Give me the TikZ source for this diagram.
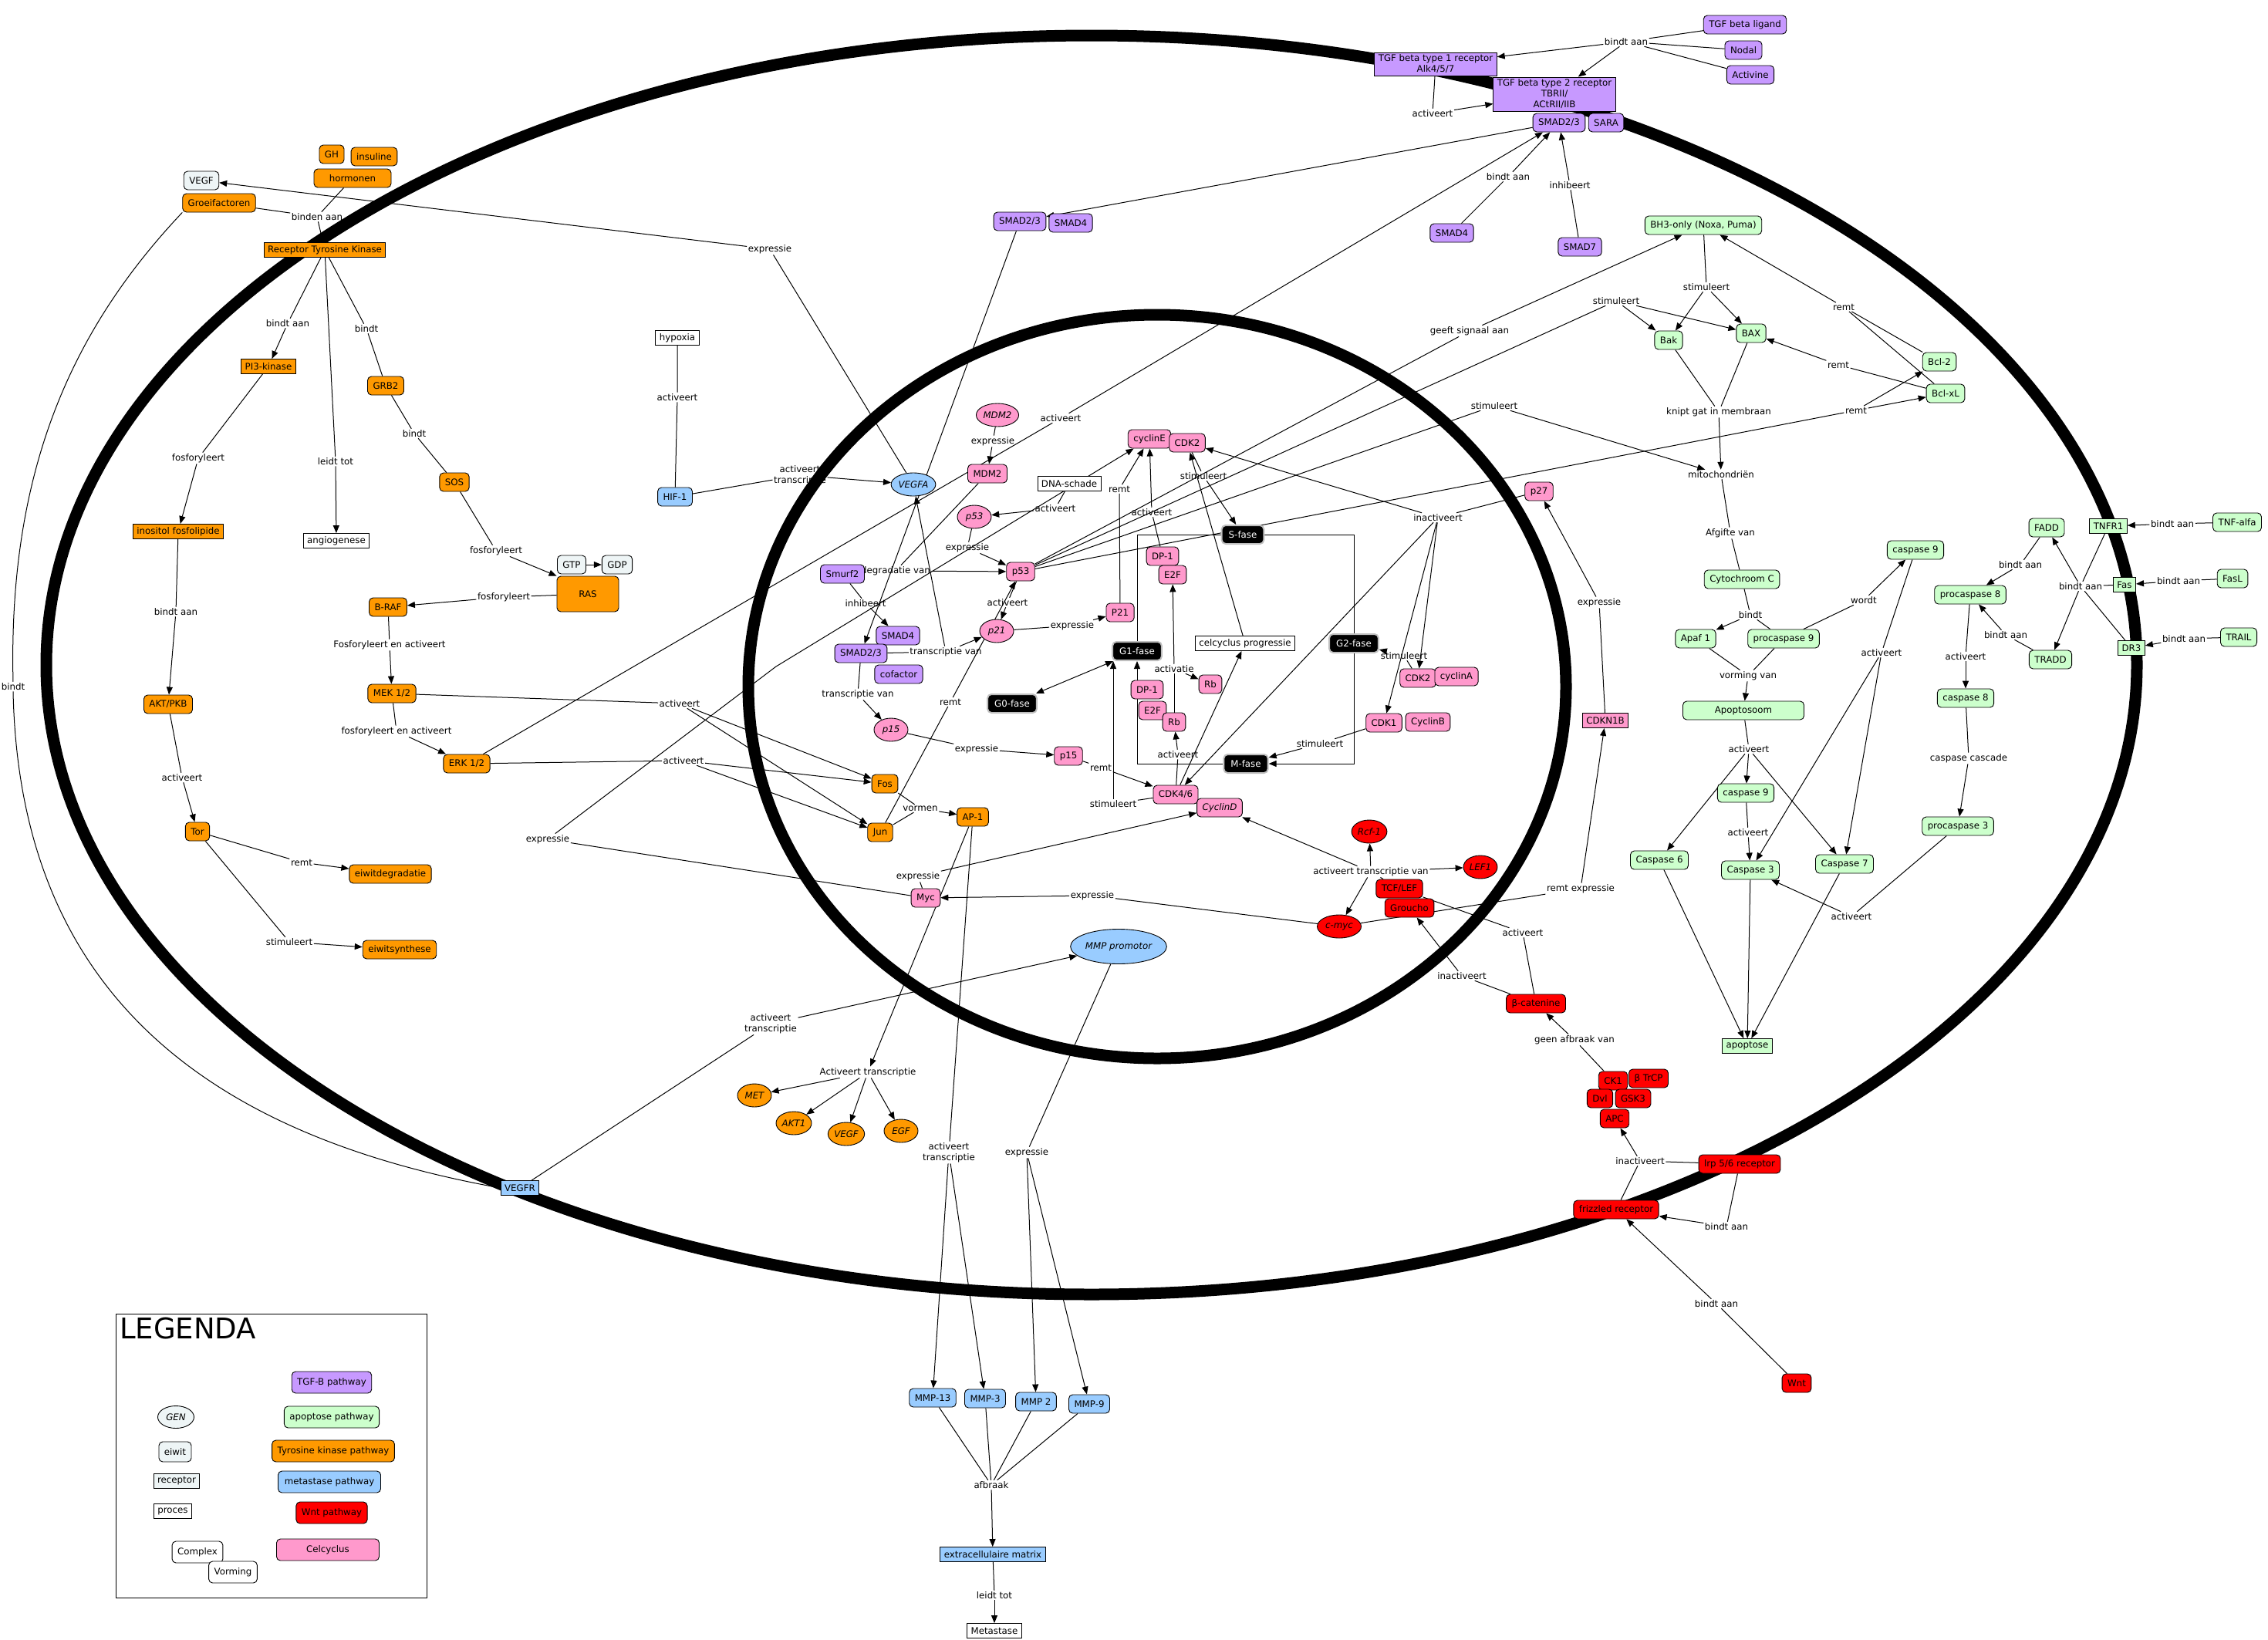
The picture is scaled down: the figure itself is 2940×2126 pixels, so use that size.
\documentclass[tikz,border=0pt]{standalone}
\usepackage{fontspec}
\setmainfont{DejaVu Sans}
\usepackage{tikz}
\usetikzlibrary{arrows.meta, shapes.geometric, backgrounds}
\usepackage{xcolor}
\definecolor{tkorange}{RGB}{255,153,0}
\definecolor{tgfpurple}{RGB}{199,153,255}
\definecolor{apogreen}{RGB}{204,255,204}
\definecolor{metblue}{RGB}{153,204,255}
\definecolor{wntred}{RGB}{255,0,0}
\definecolor{cycpink}{RGB}{255,153,204}
\definecolor{eiwitgrey}{RGB}{238,245,246}
\newcommand{\mapfont}{\fontsize{11.8}{14}\selectfont}

\begin{document}
\begin{tikzpicture}[x=1pt, y=-1pt, font=\mapfont,
  cn/.style={line width=1pt},
  arr/.style={line width=1pt, -{Triangle[length=10pt,width=8pt]}},
  box/.style={draw, rounded corners=5pt, line width=0.9pt, inner xsep=7pt, inner ysep=2pt, minimum height=24pt},
  rbox/.style={draw, line width=0.9pt, inner xsep=5pt, inner ysep=3pt, minimum height=19pt, align=center},
  gen/.style={draw, ellipse, line width=0.9pt, inner xsep=1pt, inner ysep=3pt, minimum width=44pt, minimum height=30pt, font=\mapfont\itshape},
  lbl/.style={inner sep=1.5pt, align=center},
  tkbox/.style={box, fill=tkorange}, tkrec/.style={rbox, fill=tkorange}, tkgen/.style={gen, fill=tkorange},
  tgfbox/.style={box, fill=tgfpurple}, tgfrec/.style={rbox, fill=tgfpurple},
  apobox/.style={box, fill=apogreen}, aporec/.style={rbox, fill=apogreen},
  metbox/.style={box, fill=metblue}, metrec/.style={rbox, fill=metblue}, metgen/.style={gen, fill=metblue},
  wntbox/.style={box, fill=wntred}, wntgen/.style={gen, fill=wntred},
  cycbox/.style={box, fill=cycpink}, cycrec/.style={rbox, fill=cycpink}, cycgen/.style={gen, fill=cycpink},
  eiw/.style={box, fill=eiwitgrey},
  proc/.style={rbox, fill=white},
  fase/.style={box, fill=black, text=white, draw=gray!50, line width=2pt, inner xsep=9pt}]

\useasboundingbox (0,0) rectangle (2940,2126);

% membranen
\draw[line width=15pt] (1415,862) ellipse [x radius=1355, y radius=816];
\draw[line width=15pt] (1500,890) ellipse [x radius=530, y radius=482];

% Tyrosine kinase pathway
\node[tkbox] (gh) at (430,200) {GH};
\node[tkbox] (insul) at (485,203) {insuline};
\node[tkbox, minimum width=100pt] (horm) at (457,231) {hormonen};
\node[eiw] (vegfL) at (261,234) {VEGF};
\node[tkbox] (groei) at (284,263) {Groeifactoren};
\node[tkrec] (rtk) at (421,324) {Receptor Tyrosine Kinase};
\node[tkrec] (pi3k) at (348,475) {PI3-kinase};
\node[tkbox] (grb2) at (500,500) {GRB2};
\node[tkbox] (sos) at (589,625) {SOS};
\node[tkrec] (inos) at (231,689) {inositol fosfolipide};
\node[proc] (angio) at (436,701) {angiogenese};
\node[tkbox, minimum width=80pt, minimum height=46pt] (ras) at (762,770) {RAS};
\node[eiw] (gtp) at (741,732) {GTP};
\node[eiw] (gdp) at (800,732) {GDP};
\node[tkbox] (braf) at (503,787) {B-RAF};
\node[tkbox] (mek) at (508,899) {MEK 1/2};
\node[tkbox] (erk) at (605,990) {ERK 1/2};
\node[tkbox] (akt) at (218,913) {AKT/PKB};
\node[tkbox] (tor) at (256,1078) {Tor};
\node[tkbox] (degr) at (506,1133) {eiwitdegradatie};
\node[tkbox] (synth) at (518,1231) {eiwitsynthese};
\node[tkbox] (fos) at (1147,1016) {Fos};
\node[tkbox] (jun) at (1141,1079) {Jun};
\node[tkbox] (ap1) at (1261,1059) {AP-1};
\node[tkgen] (metG) at (978,1420) {MET};
\node[tkgen] (akt1) at (1029,1456) {AKT1};
\node[tkgen] (vegfG) at (1097,1470) {VEGF};
\node[tkgen] (egf) at (1168,1466) {EGF};

% metastase pathway
\node[proc] (hypoxia) at (878,438) {hypoxia};
\node[metbox] (hif) at (875,644) {HIF-1};
\node[metgen] (vegfa) at (1184,628) {VEGFA};
\node[metrec] (vegfr) at (674,1540) {VEGFR};
\node[metgen, minimum width=105pt, minimum height=45pt] (mmpprom) at (1450,1227) {MMP promotor};
\node[metbox] (mmp13) at (1209,1812) {MMP-13};
\node[metbox] (mmp3) at (1277,1813) {MMP-3};
\node[metbox] (mmp2) at (1343,1817) {MMP 2};
\node[metbox] (mmp9) at (1412,1820) {MMP-9};
\node[metrec] (ecm) at (1287,2015) {extracellulaire matrix};
\node[proc] (metast) at (1289,2114) {Metastase};

% TGF-B pathway
\node[tgfbox] (tgfl) at (2262,32) {TGF beta ligand};
\node[tgfbox] (nodal) at (2260,65) {Nodal};
\node[tgfbox] (activ) at (2269,97) {Activine};
\node[tgfrec] (tgf1) at (1861,83) {TGF beta type 1 receptor\\Alk4/5/7};
\node[tgfrec] (tgf2) at (2015,122) {TGF beta type 2 receptor\\TBRII/\\ACtRII/IIB};
\node[tgfbox] (smadT) at (2021,159) {SMAD2/3};
\node[tgfbox] (sara) at (2082,159) {SARA};
\node[tgfbox] (smad4T) at (1882,302) {SMAD4};
\node[tgfbox] (smad7) at (2048,320) {SMAD7};
\node[tgfbox] (smadM) at (1322,287) {SMAD2/3};
\node[tgfbox] (smad4M) at (1388,289) {SMAD4};
\node[tgfbox] (smurf) at (1092,744) {Smurf2};
\node[tgfbox] (smad4L) at (1164,824) {SMAD4};
\node[tgfbox] (smadL) at (1116,847) {SMAD2/3};
\node[tgfbox] (cofac) at (1165,874) {cofactor};

% celcyclus
\node[cycgen] (mdm2g) at (1293,538) {MDM2};
\node[cycbox] (mdm2) at (1280,614) {MDM2};
\node[proc] (dna) at (1386,627) {DNA-schade};
\node[cycgen] (p53g) at (1263,670) {p53};
\node[cycbox] (p53) at (1323,741) {p53};
\node[cycgen] (p21g) at (1292,818) {p21};
\node[cycbox] (P21) at (1452,794) {P21};
\node[cycgen] (p15g) at (1155,946) {p15};
\node[cycbox] (p15) at (1385,980) {p15};
\node[cycbox] (myc) at (1200,1164) {Myc};
\node[cycbox] (cycE) at (1490,569) {cyclinE};
\node[cycbox] (cdk2T) at (1539,574) {CDK2};
\node[cycbox] (p27) at (1995,637) {p27};
\node[cycbox] (dp1T) at (1507,721) {DP-1};
\node[cycbox] (e2fT) at (1520,745) {E2F};
\node[cycbox] (rbR) at (1569,887) {Rb};
\node[cycbox] (dp1L) at (1487,894) {DP-1};
\node[cycbox] (e2fL) at (1494,921) {E2F};
\node[cycbox] (rbL) at (1522,936) {Rb};
\node[cycbox] (cdk2L) at (1838,879) {CDK2};
\node[cycbox] (cycA) at (1888,877) {cyclinA};
\node[cycbox] (cdk1) at (1794,937) {CDK1};
\node[cycbox] (cycB) at (1851,936) {CyclinB};
\node[cycbox] (cdk46) at (1524,1030) {CDK4/6};
\node[cycbox, font=\mapfont\itshape] (cycD) at (1581,1047) {CyclinD};
\node[cycrec] (cdkn1b) at (2081,934) {CDKN1B};
\node[proc] (celprog) at (1614,834) {celcyclus progressie};
\node[fase] (sfase) at (1611,693) {S-fase};
\node[fase] (g2) at (1755,834) {G2-fase};
\node[fase] (mfase) at (1615,990) {M-fase};
\node[fase] (g1) at (1474,844) {G1-fase};
\node[fase] (g0) at (1312,912) {G0-fase};

% Wnt pathway
\node[wntgen] (rcf) at (1775,1078) {Rcf-1};
\node[wntgen] (lef1) at (1919,1124) {LEF1};
\node[wntgen, minimum width=57pt] (cmyc) at (1736,1201) {c-myc};
\node[wntbox] (tcf) at (1814,1152) {TCF/LEF};
\node[wntbox] (groucho) at (1827,1177) {Groucho};
\node[wntbox] (bcat) at (1991,1301) {β-catenine};
\node[wntbox] (ck1) at (2091,1401) {CK1};
\node[wntbox] (btrcp) at (2137,1398) {β TrCP};
\node[wntbox] (dvl) at (2074,1424) {Dvl};
\node[wntbox] (gsk3) at (2117,1424) {GSK3};
\node[wntbox] (apc) at (2093,1450) {APC};
\node[wntbox] (lrp) at (2255,1509) {lrp 5/6 receptor};
\node[wntbox] (frizzled) at (2095,1568) {frizzled receptor};
\node[wntbox] (wnt) at (2329,1793) {Wnt};

% apoptose pathway
\node[apobox] (bh3) at (2208,292) {BH3-only (Noxa, Puma)};
\node[apobox] (bak) at (2163,441) {Bak};
\node[apobox] (bax) at (2270,432) {BAX};
\node[apobox] (bcl2) at (2514,469) {Bcl-2};
\node[apobox] (bclxl) at (2522,510) {Bcl-xL};
\node[lbl] (mito) at (2231,615) {mitochondriën};
\node[apobox] (cytc) at (2258,751) {Cytochroom C};
\node[apobox] (apaf) at (2198,828) {Apaf 1};
\node[apobox] (procasp9) at (2312,828) {procaspase 9};
\node[apobox] (casp9U) at (2483,713) {caspase 9};
\node[apobox, minimum width=157pt] (apopt) at (2260,921) {Apoptosoom};
\node[apobox] (casp9L) at (2263,1028) {caspase 9};
\node[apobox] (casp3) at (2269,1128) {Caspase 3};
\node[apobox] (casp7) at (2391,1120) {Caspase 7};
\node[apobox] (casp6) at (2151,1115) {Caspase 6};
\node[aporec] (apoptose) at (2265,1356) {apoptose};
\node[apobox] (fadd) at (2653,684) {FADD};
\node[aporec] (tnfr1) at (2733,682) {TNFR1};
\node[apobox] (tnfa) at (2900,677) {TNF-alfa};
\node[aporec] (fas) at (2754,758) {Fas};
\node[apobox] (fasl) at (2894,750) {FasL};
\node[aporec] (dr3) at (2763,840) {DR3};
\node[apobox] (trail) at (2902,826) {TRAIL};
\node[apobox] (procasp8) at (2554,771) {procaspase 8};
\node[apobox] (tradd) at (2658,855) {TRADD};
\node[apobox] (casp8) at (2548,905) {caspase 8};
\node[apobox] (procasp3) at (2538,1071) {procaspase 3};

% legenda
\node[draw, line width=1pt, minimum width=403pt, minimum height=368pt] (legenda) at (352,1887) {};
\node[anchor=west, inner sep=0pt, font=\fontsize{37}{40}\selectfont] (legT) at (155,1722) {LEGENDA};
\node[tgfbox, minimum height=28pt] (legTgf) at (430,1792) {TGF-B pathway};
\node[gen, fill=eiwitgrey, minimum width=47pt, minimum height=29pt] (legGen) at (228,1837) {GEN};
\node[apobox, minimum height=28pt] (legApo) at (430,1837) {apoptose pathway};
\node[eiw, minimum height=26pt] (legEiwit) at (227,1882) {eiwit};
\node[tkbox, minimum height=28pt] (legTk) at (432,1881) {Tyrosine kinase pathway};
\node[rbox, fill=eiwitgrey] (legRec) at (229,1920) {receptor};
\node[metbox, minimum height=28pt, minimum width=133pt] (legMet) at (427,1921) {metastase pathway};
\node[proc] (legProc) at (224,1959) {proces};
\node[wntbox, minimum height=28pt] (legWnt) at (430,1961) {Wnt pathway};
\node[box, fill=white, minimum height=28pt] (legCompl) at (256,2012) {Complex};
\node[box, fill=white, minimum height=28pt] (legVorm) at (302,2038) {Vorming};
\node[cycbox, minimum height=28pt, minimum width=133pt] (legCel) at (425,2009) {Celcyclus};

\begin{pgfonlayer}{background}
% labels
\node[lbl] (lbBinden) at (411,281) {binden aan};
\node[lbl] (lbPi3) at (373,419) {bindt aan};
\node[lbl] (lbLeidt) at (435,598) {leidt tot};
\node[lbl] (lbGrb) at (475,426) {bindt};
\node[lbl] (lbSos) at (537,562) {bindt};
\node[lbl] (lbFosf1) at (257,594) {fosforyleert};
\node[lbl] (lbFosf2) at (643,714) {fosforyleert};
\node[lbl] (lbAkt) at (228,793) {bindt aan};
\node[lbl] (lbTor) at (236,1008) {activeert};
\node[lbl] (lbRemt) at (391,1118) {remt};
\node[lbl] (lbStim) at (375,1221) {stimuleert};
\node[lbl] (lbBraf) at (653,774) {fosforyleert};
\node[lbl] (lbMek) at (505,836) {Fosforyleert en activeert};
\node[lbl] (lbErk) at (514,948) {fosforyleert en activeert};
\node[lbl] (lbAct1) at (881,912) {activeert};
\node[lbl] (lbAct2) at (886,986) {activeert};
\node[lbl] (lbVorm) at (1193,1048) {vormen};
\node[lbl] (lbBindt) at (17,890) {bindt};
\node[lbl] (lbHyp) at (878,515) {activeert};
\node[lbl] (lbHif) at (1037,616) {activeert\\transcriptie};
\node[lbl] (lbVexp) at (998,323) {expressie};
\node[lbl] (lbErkSmad) at (1375,542) {activeert};
\node[lbl] (lbMdm) at (1287,572) {expressie};
\node[lbl] (lbDegr) at (1161,740) {degradatie van};
\node[lbl] (lbDna) at (1368,659) {activeert};
\node[lbl] (lbP53) at (1254,710) {expressie};
\node[lbl] (lbInh) at (1122,782) {inhibeert};
\node[lbl] (lbP21) at (1306,781) {activeert};
\node[lbl] (lbTrv1) at (1226,845) {transcriptie van};
\node[lbl] (lbTrv2) at (1112,900) {transcriptie van};
\node[lbl] (lbJun) at (1232,910) {remt};
\node[lbl] (lbP21e) at (1390,811) {expressie};
\node[lbl] (lbP21r) at (1451,634) {remt};
\node[lbl] (lbP15e) at (1266,971) {expressie};
\node[lbl] (lbP15r) at (1427,995) {remt};
\node[lbl] (lbStimG) at (1443,1042) {stimuleert};
\node[lbl] (lbMycE) at (710,1088) {expressie};
\node[lbl] (lbMycD) at (1190,1136) {expressie};
\node[lbl] (lbCmyc) at (1416,1161) {expressie};
\node[lbl] (lbApTr) at (1125,1390) {Activeert transcriptie};
\node[lbl] (lbApMmp) at (1230,1494) {activeert\\transcriptie};
\node[lbl] (lbVegfr) at (999,1327) {activeert\\transcriptie};
\node[lbl] (lbMmpExp) at (1331,1494) {expressie};
\node[lbl] (lbAfbr) at (1285,1925) {afbraak};
\node[lbl] (lbLeidt2) at (1289,2068) {leidt tot};
\node[lbl] (lbActE) at (1493,664) {activeert};
\node[lbl] (lbStimS) at (1560,617) {stimuleert};
\node[lbl] (lbInact) at (1864,671) {inactiveert};
\node[lbl] (lbP27) at (2073,781) {expressie};
\node[lbl] (lbStimG2) at (1820,850) {stimuleert};
\node[lbl] (lbActiv) at (1522,867) {activatie};
\node[lbl] (lbActRb) at (1527,978) {activeert};
\node[lbl] (lbStimM) at (1711,964) {stimuleert};
\node[lbl] (lbTr) at (1777,1130) {activeert transcriptie van};
\node[lbl] (lbRemtExp) at (2049,1152) {remt expressie};
\node[lbl] (lbActB) at (1974,1209) {activeert};
\node[lbl] (lbInactG) at (1895,1265) {inactiveert};
\node[lbl] (lbGeen) at (2041,1348) {geen afbraak van};
\node[lbl] (lbInactA) at (2126,1505) {inactiveert};
\node[lbl] (lbBindL) at (2238,1590) {bindt aan};
\node[lbl] (lbBindW) at (2225,1690) {bindt aan};
\node[lbl] (lbBindTgf) at (2108,54) {bindt aan};
\node[lbl] (lbActTgf) at (1857,147) {activeert};
\node[lbl] (lbBindS4) at (1955,229) {bindt aan};
\node[lbl] (lbInhS7) at (2035,240) {inhibeert};
\node[lbl] (lbGeeft) at (1905,429) {geeft signaal aan};
\node[lbl] (lbStimBak) at (2095,390) {stimuleert};
\node[lbl] (lbStimBh3) at (2212,372) {stimuleert};
\node[lbl] (lbStimMito) at (1937,526) {stimuleert};
\node[lbl] (lbKnipt) at (2228,534) {knipt gat in membraan};
\node[lbl] (lbRemtBh) at (2390,398) {remt};
\node[lbl] (lbRemtBax) at (2383,473) {remt};
\node[lbl] (lbRemtBcl) at (2406,532) {remt};
\node[lbl] (lbAfg) at (2243,691) {Afgifte van};
\node[lbl] (lbBindtC) at (2269,797) {bindt};
\node[lbl] (lbWordt) at (2416,778) {wordt};
\node[lbl] (lbVorming) at (2266,876) {vorming van};
\node[lbl] (lbActA) at (2267,971) {activeert};
\node[lbl] (lbAct9) at (2266,1079) {activeert};
\node[lbl] (lbAct9U) at (2439,846) {activeert};
\node[lbl] (lbActP3) at (2400,1188) {activeert};
\node[lbl] (lbBindF) at (2619,732) {bindt aan};
\node[lbl] (lbBindT) at (2600,823) {bindt aan};
\node[lbl] (lbAct8) at (2548,851) {activeert};
\node[lbl] (lbCasc) at (2552,983) {caspase cascade};
\node[lbl] (lbBindR) at (2697,760) {bindt aan};
\node[lbl] (lbTnf) at (2816,679) {bindt aan};
\node[lbl] (lbFasl) at (2824,753) {bindt aan};
\node[lbl] (lbTrail) at (2831,828) {bindt aan};
\coordinate (knikMyc) at (1006,864);

% Tyrosine kinase
\draw[cn] (groei) -- (lbBinden);
\draw[cn] (horm) -- (lbBinden);
\draw[arr] (lbBinden) -- (rtk);
\draw[cn] (rtk) -- (lbPi3); \draw[arr] (lbPi3) -- (pi3k);
\draw[cn] (rtk) -- (lbLeidt); \draw[arr] (lbLeidt) -- (angio);
\draw[cn] (rtk) -- (lbGrb) -- (grb2);
\draw[cn] (grb2) -- (lbSos) -- (sos);
\draw[cn] (sos) -- (lbFosf2); \draw[arr] (lbFosf2) -- (ras.north west);
\draw[cn] (pi3k) -- (lbFosf1); \draw[arr] (lbFosf1) -- (inos);
\draw[cn] (inos) -- (lbAkt); \draw[arr] (lbAkt) -- (akt);
\draw[cn] (akt) -- (lbTor); \draw[arr] (lbTor) -- (tor);
\draw[cn] (tor) -- (lbRemt); \draw[arr] (lbRemt) -- (degr);
\draw[cn] (tor) -- (lbStim); \draw[arr] (lbStim) -- (synth);
\draw[cn] (ras) -- (lbBraf); \draw[arr] (lbBraf) -- (braf);
\draw[cn] (braf) -- (lbMek); \draw[arr] (lbMek) -- (mek);
\draw[cn] (mek) -- (lbErk); \draw[arr] (lbErk) -- (erk);
\draw[arr] (gtp) -- (gdp);
\draw[cn] (mek) -- (lbAct1);
\draw[cn] (erk) -- (lbAct2);
\foreach \t in {fos,jun} {
  \draw[arr] (lbAct1) -- (\t);
  \draw[arr] (lbAct2) -- (\t);
}
\draw[cn] (erk) -- (lbErkSmad); \draw[arr] (lbErkSmad) -- (smadT);
\draw[cn] (fos) -- (lbVorm); \draw[cn] (jun) -- (lbVorm); \draw[arr] (lbVorm) -- (ap1);
\draw[arr] (ap1) -- (lbApTr);
\foreach \t in {metG,akt1,vegfG,egf} \draw[arr] (lbApTr) -- (\t);
\draw[cn] (ap1) -- (lbApMmp);
\foreach \t in {mmp13,mmp3} \draw[arr] (lbApMmp) -- (\t);

% metastase
\draw[cn] (groei.south west) .. controls (100,420) and (10,600) .. (lbBindt.north);
\draw[cn] (lbBindt.south) .. controls (25,1280) and (260,1470) .. (vegfr.west);
\draw[cn] (vegfr) -- (lbVegfr); \draw[arr] (lbVegfr) -- (mmpprom);
\draw[cn] (mmpprom) -- (lbMmpExp);
\foreach \t in {mmp2,mmp9} \draw[arr] (lbMmpExp) -- (\t);
\foreach \m in {mmp13,mmp3,mmp2,mmp9} \draw[cn] (\m) -- (lbAfbr);
\draw[arr] (lbAfbr) -- (ecm);
\draw[cn] (ecm) -- (lbLeidt2); \draw[arr] (lbLeidt2) -- (metast);
\draw[cn] (hypoxia) -- (lbHyp) -- (hif);
\draw[cn] (hif) -- (lbHif); \draw[arr] (lbHif) -- (vegfa);
\draw[cn] (vegfa) -- (lbVexp); \draw[arr] (lbVexp) -- (vegfL);

% TGF-B
\foreach \s in {tgfl,nodal,activ} \draw[cn] (\s) -- (lbBindTgf);
\draw[arr] (lbBindTgf) -- (tgf1);
\draw[arr] (lbBindTgf) -- (tgf2);
\draw[cn] (tgf1) -- (lbActTgf); \draw[arr] (lbActTgf) -- (tgf2);
\draw[cn] (smad4T) -- (lbBindS4); \draw[arr] (lbBindS4) -- (smadT);
\draw[cn] (smad7) -- (lbInhS7); \draw[arr] (lbInhS7) -- (smadT);
\draw[arr] (smadT) -- (smadM);
\draw[arr] (smadM) -- (smadL);
\draw[cn] (smurf) -- (lbInh); \draw[arr] (lbInh) -- (smad4L);
\draw[cn] (smadL) -- (lbTrv1);
\draw[arr] (lbTrv1) -- (p21g);
\draw[arr] (lbTrv1) -- (vegfa);
\draw[cn] (smadL) -- (lbTrv2); \draw[arr] (lbTrv2) -- (p15g);

% celcyclus
\draw[cn] (mdm2g) -- (lbMdm); \draw[arr] (lbMdm) -- (mdm2);
\draw[cn] (mdm2) -- (lbDegr); \draw[arr] (lbDegr) -- (p53);
\draw[cn] (dna) -- (lbDna); \draw[arr] (lbDna) -- (p53g);
\draw[cn] (p53g) -- (lbP53); \draw[arr] (lbP53) -- (p53);
\draw[cn] (p53) -- (lbP21); \draw[arr] (lbP21) -- (p21g);
\draw[cn] (jun) -- (lbJun); \draw[arr] (lbJun) -- (p53);
\draw[cn] (p21g) -- (lbP21e); \draw[arr] (lbP21e) -- (P21);
\draw[cn] (P21) -- (lbP21r); \draw[arr] (lbP21r) -- (cycE);
\draw[cn] (p15g) -- (lbP15e); \draw[arr] (lbP15e) -- (p15);
\draw[cn] (p15) -- (lbP15r); \draw[arr] (lbP15r) -- (cdk46);
\draw[cn] (cdk46) -- (lbStimG); \draw[arr] (lbStimG) -- (lbStimG.north |- g1.south);
\draw[{Triangle[length=10pt,width=8pt]}-{Triangle[length=10pt,width=8pt]}, line width=1pt] (g0) -- (g1);
\draw[cn] (myc) -- (lbMycE); \draw[arr] (lbMycE) -- (knikMyc) -- (cycE);
\draw[cn] (myc) -- (lbMycD); \draw[arr] (lbMycD) -- (cycD);
\draw[cn] (cmyc) -- (lbCmyc); \draw[arr] (lbCmyc) -- (myc);
\draw[cn] (cmyc) -- (lbRemtExp); \draw[arr] (lbRemtExp) -- (cdkn1b);
\draw[cn] (cdkn1b) -- (lbP27); \draw[arr] (lbP27) -- (p27);
\draw[cn] (p27) -- (lbInact);
\foreach \t in {cdk2T,cdk2L,cdk1,cdk46} \draw[arr] (lbInact) -- (\t);
\draw[cn] (dp1T) -- (lbActE); \draw[arr] (lbActE) -- (cycE);
\draw[cn] (cdk2T) -- (lbStimS); \draw[arr] (lbStimS) -- (sfase);
\draw[arr] (cdk46) -- (celprog);
\draw[arr] (celprog) -- (cdk2T);
\draw[cn] (cdk2L) -- (lbStimG2); \draw[arr] (lbStimG2) -- (g2);
\draw[cn] (cdk1) -- (lbStimM); \draw[arr] (lbStimM) -- (mfase);
\draw[cn] (rbL) -- (lbActiv);
\draw[arr] (lbActiv) -- (e2fT);
\draw[arr] (lbActiv) -- (rbR);
\draw[cn] (cdk46) -- (lbActRb); \draw[arr] (lbActRb) -- (rbL);
% fasen
\draw[cn] (sfase.east) -| (g2.north);
\draw[arr] (g2.south) |- (mfase.east);
\draw[arr] (mfase.west) -| (g1.south);
\draw[cn] (g1.north) |- (sfase.west);

% Wnt
\draw[cn] (bcat) -- (lbActB) -- (tcf);
\draw[cn] (tcf) -- (lbTr);
\foreach \t in {rcf,lef1,cmyc,cycD} \draw[arr] (lbTr) -- (\t);
\draw[cn] (bcat) -- (lbInactG); \draw[arr] (lbInactG) -- (groucho);
\draw[cn] (ck1) -- (lbGeen); \draw[arr] (lbGeen) -- (bcat);
\draw[cn] (frizzled) -- (lbInactA); \draw[cn] (lrp) -- (lbInactA);
\draw[arr] (lbInactA) -- (apc);
\draw[cn] (lrp) -- (lbBindL); \draw[arr] (lbBindL) -- (frizzled);
\draw[cn] (wnt) -- (lbBindW); \draw[arr] (lbBindW) -- (frizzled);

% apoptose
\draw[cn] (p53) -- (lbGeeft); \draw[arr] (lbGeeft) -- (bh3);
\draw[cn] (p53) -- (lbStimBak);
\draw[cn] (p53) -- (lbStimMito); \draw[arr] (lbStimMito) -- (mito);
\draw[cn] (p53) -- (lbRemtBcl);
\foreach \t in {bcl2,bclxl} \draw[arr] (lbRemtBcl) -- (\t);
\draw[cn] (bh3) -- (lbStimBh3);
\foreach \t in {bak,bax} {
  \draw[arr] (lbStimBak) -- (\t);
  \draw[arr] (lbStimBh3) -- (\t);
  \draw[cn] (\t) -- (lbKnipt);
}
\draw[arr] (lbKnipt) -- (mito);
\draw[cn] (bcl2) -- (lbRemtBh); \draw[cn] (bclxl) -- (lbRemtBh);
\draw[arr] (lbRemtBh) -- (bh3);
\draw[cn] (bclxl) -- (lbRemtBax); \draw[arr] (lbRemtBax) -- (bax);
\draw[cn] (mito) -- (lbAfg) -- (cytc);
\draw[cn] (cytc) -- (lbBindtC); \draw[arr] (lbBindtC) -- (apaf);
\draw[cn] (lbBindtC) -- (procasp9);
\draw[cn] (procasp9) -- (lbWordt); \draw[arr] (lbWordt) -- (casp9U);
\draw[cn] (apaf) -- (lbVorming); \draw[cn] (procasp9) -- (lbVorming);
\draw[arr] (lbVorming) -- (apopt);
\draw[cn] (apopt) -- (lbActA);
\foreach \t in {casp9L,casp7,casp6} \draw[arr] (lbActA) -- (\t);
\draw[cn] (casp9L) -- (lbAct9); \draw[arr] (lbAct9) -- (casp3);
\draw[cn] (casp9U) -- (lbAct9U);
\foreach \t in {casp3,casp7} \draw[arr] (lbAct9U) -- (\t);
\draw[cn] (procasp3) -- (lbActP3); \draw[arr] (lbActP3) -- (casp3);
\foreach \s in {casp6,casp3,casp7} \draw[arr] (\s) -- (apoptose);
\draw[cn] (fadd) -- (lbBindF); \draw[arr] (lbBindF) -- (procasp8);
\draw[cn] (tradd) -- (lbBindT); \draw[arr] (lbBindT) -- (procasp8);
\draw[cn] (procasp8) -- (lbAct8); \draw[arr] (lbAct8) -- (casp8);
\draw[cn] (casp8) -- (lbCasc); \draw[arr] (lbCasc) -- (procasp3);
\foreach \s in {tnfr1,fas,dr3} \draw[cn] (\s) -- (lbBindR);
\draw[arr] (lbBindR) -- (fadd);
\draw[arr] (lbBindR) -- (tradd);
\draw[cn] (tnfa) -- (lbTnf); \draw[arr] (lbTnf) -- (tnfr1);
\draw[cn] (fasl) -- (lbFasl); \draw[arr] (lbFasl) -- (fas);
\draw[cn] (trail) -- (lbTrail); \draw[arr] (lbTrail) -- (dr3);
\end{pgfonlayer}
\end{tikzpicture}
\end{document}
